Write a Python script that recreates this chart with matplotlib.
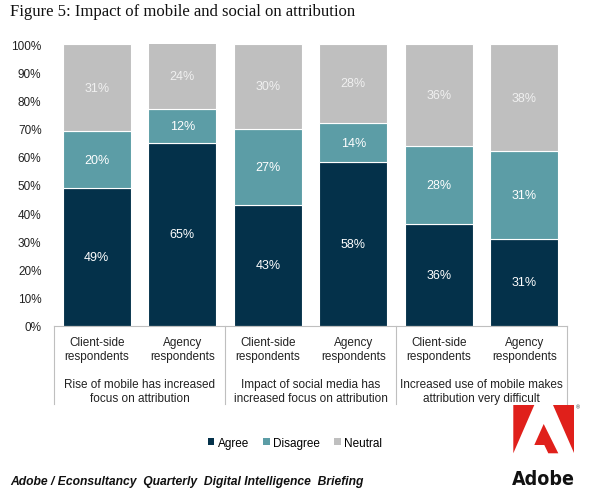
import numpy as np
import matplotlib
matplotlib.use("Agg")
import matplotlib.pyplot as plt
from matplotlib.patches import Patch, Polygon
from matplotlib.transforms import blended_transform_factory

plt.rcParams['font.family'] = ['Liberation Sans', 'DejaVu Sans']

# data
categories = ["Client-side\nrespondents", "Agency\nrespondents"] * 3
groups = ["Rise of mobile has increased\nfocus on attribution",
          "Impact of social media has\nincreased focus on attribution",
          "Increased use of mobile makes\nattribution very difficult"]
agree = [49, 65, 43, 58, 36, 31]
disagree = [20, 12, 27, 14, 28, 31]
neutral = [31, 24, 30, 28, 36, 38]
series_names = ["Agree", "Disagree", "Neutral"]
colors = ["#04314A", "#5C9DA6", "#BFBFBF"]

fig = plt.figure(figsize=(5.89, 5.02), dpi=100)
W, H = 589, 502
ax = fig.add_axes([54 / W, 1 - 327 / H, 513 / W, 282 / H])

x = np.arange(len(categories))
bw = 0.79
bottom = np.zeros(len(categories))
for vals, col in zip([agree, disagree, neutral], colors):
    v = np.array(vals) / 100
    ax.bar(x, v, bw, bottom=bottom, color=col, edgecolor="white", linewidth=0.8)
    for xi, b, h in zip(x, bottom, v):
        top = min(b + h, 1.0)
        ax.text(xi, (b + top) / 2, f"{int(round(h * 100))}%", ha="center", va="center",
                color="white" if col != colors[2] else "#F0F0F0", fontsize=9)
    bottom = bottom + v

ax.set_xlim(-0.5, len(categories) - 0.5)
ax.set_ylim(0, 1)
ax.set_yticks(np.arange(0, 1.01, 0.1))
ax.set_yticklabels([f"{int(t)}%" for t in np.arange(0, 101, 10)], fontsize=8.5, color="#222222")
ax.tick_params(axis="y", length=0, pad=9)
ax.set_xticks([])
for s in ["top", "right", "left"]:
    ax.spines[s].set_visible(False)
ax.spines["bottom"].set_color("#BFBFBF")

# category and group labels under the axis
tr = blended_transform_factory(ax.transData, ax.transAxes)
for xi, lab in zip(x, categories):
    ax.text(xi, -0.035, lab, transform=tr, ha="center", va="top", fontsize=8.5,
            color="#222222", linespacing=1.2)
for gi, g in enumerate(groups):
    ax.text(2 * gi + 0.5, -0.185, g, transform=tr, ha="center", va="top", fontsize=8.5,
            color="#222222", linespacing=1.2)
for xs in [0, 1 / 3, 2 / 3, 1]:
    ax.plot([xs, xs], [0, -0.275], transform=ax.transAxes, color="#BFBFBF",
            linewidth=0.8, clip_on=False)

# title
fig.text(10 / W, 1 - 12 / H, "Figure 5: Impact of mobile and social on attribution",
         family="Liberation Serif", fontsize=12, ha="left", va="center", color="#111111")

# legend
handles = [Patch(facecolor=c, edgecolor="none") for c in colors]
fig.legend(handles, series_names, loc="center", bbox_to_anchor=(295 / W, 1 - 444 / H),
           ncol=3, frameon=False, fontsize=8.5, handlelength=0.55, handleheight=0.55,
           handletextpad=0.3, columnspacing=1.2)

# footer
fig.text(10 / W, 1 - 482 / H, "Adobe / Econsultancy  Quarterly  Digital Intelligence  Briefing",
         fontsize=8.7, fontweight="bold", fontstyle="italic", ha="left", va="center", color="#111111")

# Adobe logo
def px(pts):
    return [(a / W, 1 - b / H) for a, b in pts]

red = "#E0201B"
for pts in [[(513.3, 406), (534.3, 406), (513.3, 454.3)],
            [(552.7, 406), (574, 406), (574, 454.3)],
            [(543.7, 425), (558.3, 454.3), (548.3, 454.3), (544.3, 446), (534.3, 446)]]:
    fig.patches.append(Polygon(px(pts), closed=True, facecolor=red, edgecolor="none",
                               transform=fig.transFigure, figure=fig))
fig.text(543 / W, 1 - 480 / H, "Adobe", family=["DejaVu Sans"], fontstretch="condensed",
         fontsize=14, fontweight="bold", ha="center", va="center", color="#111111")
fig.text(578 / W, 1 - 408 / H, "®", fontsize=4, ha="center", va="center", color="#333333")

fig.savefig("out.png", dpi=100, facecolor="white")
